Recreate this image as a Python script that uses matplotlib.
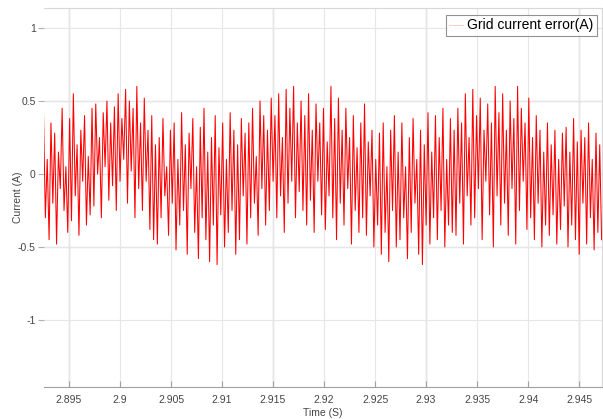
import numpy as np
import matplotlib
matplotlib.use("Agg")
import matplotlib.pyplot as plt
from matplotlib import font_manager

# ---- data ----
t_start = 2.8925
t_end = 2.9472
current_error = [
    0.42, -0.30, 0.10, -0.45, 0.35, -0.20, 0.28, -0.48, 0.15, -0.10,
    0.45, -0.25, 0.05, -0.40, 0.38, -0.32, 0.55, -0.15, 0.20, -0.42,
    0.30, -0.05, 0.40, -0.35, 0.12, -0.28, 0.45, -0.22, 0.48, 0.00,
    0.25, -0.30, 0.42, 0.05, 0.50, -0.18, 0.35, -0.08, 0.46, -0.25,
    0.55, -0.05, 0.38, 0.10, 0.58, -0.20, 0.50, 0.02, 0.45, -0.30,
    0.60, -0.10, 0.35, -0.25, 0.52, -0.05, 0.30, -0.38, 0.40, -0.45,
    0.20, -0.48, 0.25, -0.30, 0.38, -0.15, 0.05, -0.42, 0.30, -0.20,
    0.35, -0.52, 0.10, -0.35, 0.42, -0.25, 0.20, -0.55, 0.28, -0.10,
    0.38, -0.40, 0.05, -0.58, 0.32, -0.30, 0.45, -0.45, 0.15, -0.60,
    0.25, -0.35, 0.40, -0.62, 0.18, -0.28, 0.35, -0.50, 0.10, -0.40,
    0.42, -0.25, 0.30, -0.55, 0.20, -0.45, 0.38, -0.15, 0.28, -0.48,
    0.35, -0.30, 0.45, -0.20, 0.12, -0.42, 0.50, -0.10, 0.40, -0.35,
    0.30, -0.25, 0.52, -0.05, 0.40, -0.30, 0.55, -0.15, 0.25, -0.40,
    0.58, -0.20, 0.45, -0.05, 0.60, -0.30, 0.35, -0.12, 0.50, -0.25,
    0.40, -0.35, 0.55, -0.18, 0.30, -0.40, 0.48, -0.05, 0.35, -0.28,
    0.45, -0.38, 0.22, -0.15, 0.60, -0.30, 0.38, -0.45, 0.52, -0.20,
    0.30, -0.35, 0.45, -0.10, 0.25, -0.48, 0.40, -0.25, 0.18, -0.40,
    0.35, -0.30, 0.48, -0.42, 0.22, -0.15, 0.30, -0.50, 0.10, -0.35,
    0.28, -0.55, 0.35, -0.40, 0.05, -0.60, 0.30, -0.25, 0.40, -0.50,
    0.15, -0.45, 0.35, -0.30, 0.05, -0.58, 0.25, -0.40, 0.38, -0.20,
    0.10, -0.55, 0.30, -0.62, 0.20, -0.35, 0.42, -0.48, 0.15, -0.30,
    0.40, -0.45, 0.25, -0.25, 0.45, -0.50, 0.10, -0.35, 0.38, -0.40,
    0.30, -0.42, 0.45, -0.20, 0.35, -0.48, 0.55, -0.15, 0.25, -0.35,
    0.58, -0.30, 0.40, -0.10, 0.52, -0.45, 0.30, -0.05, 0.48, -0.28,
    0.35, -0.50, 0.60, -0.15, 0.42, -0.35, 0.55, -0.20, 0.30, -0.42,
    0.50, -0.10, 0.38, -0.48, 0.60, -0.25, 0.45, -0.05, 0.35, -0.38,
    0.52, -0.30, 0.25, -0.45, 0.40, -0.20, 0.30, -0.50, 0.15, -0.35,
    0.35, -0.42, 0.20, -0.28, 0.30, -0.48, 0.10, -0.38, 0.28, -0.22,
    0.32, -0.50, 0.15, -0.35, 0.38, -0.45, 0.22, -0.55, 0.30, -0.20,
    0.25, -0.48, 0.35, -0.30, 0.10, -0.52, 0.28, -0.40, 0.20, -0.45,
]
x_ticks = [2.895, 2.9, 2.905, 2.91, 2.915, 2.92, 2.925, 2.93, 2.935, 2.94, 2.945]
x_tick_labels = ["2.895", "2.9", "2.905", "2.91", "2.915", "2.92", "2.925",
                 "2.93", "2.935", "2.94", "2.945"]
y_ticks = [-1, -0.5, 0, 0.5, 1]
y_tick_labels = ["-1", "-0.5", "0", "0.5", "1"]
legend_label = "Grid current error(A)"
x_label = "Time (S)"
y_label = "Current (A)"

names = {f.name for f in font_manager.fontManager.ttflist}
font = "Liberation Sans Narrow" if "Liberation Sans Narrow" in names else "Liberation Sans"
plt.rcParams["font.family"] = [font, "DejaVu Sans"]

t = np.linspace(t_start, t_end, len(current_error))

fig = plt.figure(figsize=(6.03, 4.19), dpi=100)
ax = fig.add_axes([44 / 603, 1 - 387 / 419, 1 - 44 / 603 - 0.002, (387 - 8) / 419])

ax.plot(t, current_error, color="#ff0000", lw=0.75, label=legend_label, zorder=3)

ax.set_xlim(2.89255, 2.94722)
ax.set_ylim(-1.459, 1.137)
ax.set_xticks(x_ticks)
ax.set_xticklabels(x_tick_labels)
ax.set_yticks(y_ticks)
ax.set_yticklabels(y_tick_labels)

ax.grid(True, color="#e6e6e6", lw=0.8, zorder=0)
for xv in [2.895, 2.915, 2.93, 2.945]:
    ax.axvline(xv, color="#b4b4b4", lw=0.9, zorder=1)
for yv in [0.5, -0.5]:
    ax.axhline(yv, color="#c8c8c8", lw=0.9, zorder=1)

for s in ax.spines.values():
    s.set_color("#d8d8d8")
    s.set_linewidth(0.8)
ax.spines["bottom"].set_color("#a0a0a0")
ax.spines["left"].set_visible(False)

ax.tick_params(axis="x", direction="in", length=4, colors="#a0a0a0",
               labelcolor="#444444", labelsize=7.5, pad=6)
ax.tick_params(axis="y", direction="out", length=4, colors="#b0b0b0",
               labelcolor="#444444", labelsize=7.5, pad=2)

ax.set_xlabel(x_label, fontsize=7.5, color="#444444", labelpad=2)
ax.set_ylabel(y_label, fontsize=7.5, color="#444444", va="center")
ax.yaxis.set_label_coords((18 - 44) / 559, 0.5)

leg = ax.legend(loc="upper right", fontsize=10, frameon=True, fancybox=False,
                handlelength=1.0, handletextpad=0.3, borderpad=0.25,
                borderaxespad=0.0,
                bbox_to_anchor=(597 / 603, 1 - 15 / 419),
                bbox_transform=fig.transFigure)
leg.get_frame().set_edgecolor("#777777")
leg.get_frame().set_linewidth(0.8)
for h in leg.get_lines():
    h.set_color("#ffcccc")

fig.savefig("out.png", dpi=100)
